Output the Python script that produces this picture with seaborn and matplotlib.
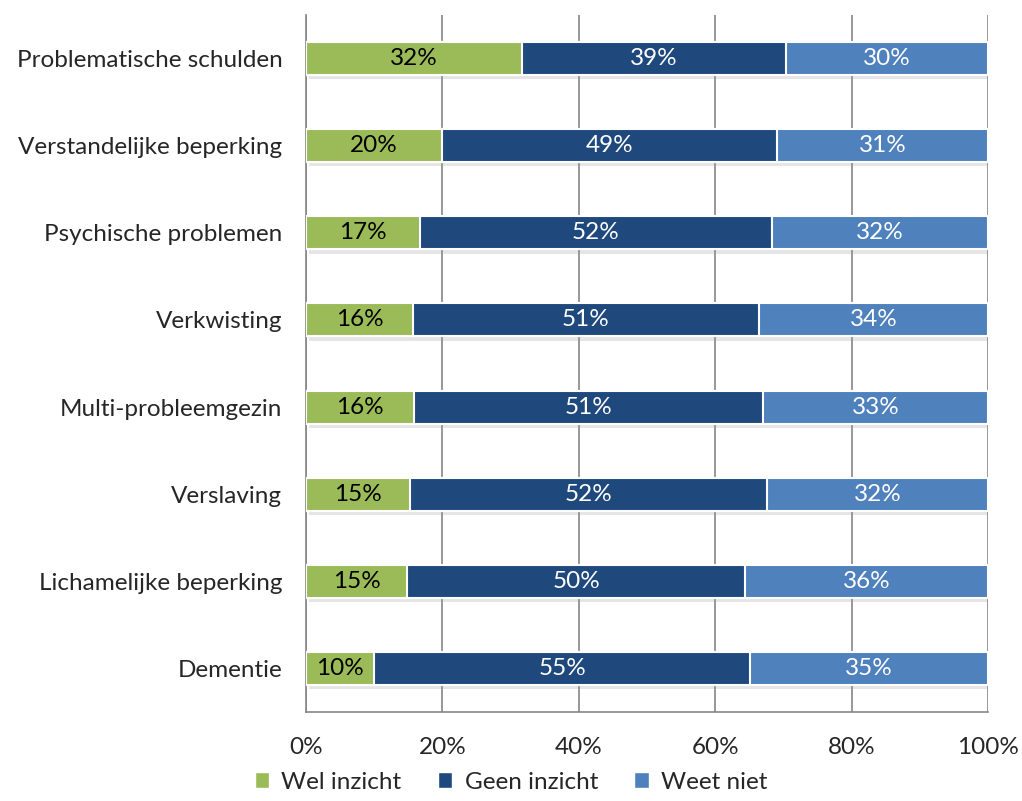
import numpy as np
import pandas as pd
import matplotlib.pyplot as plt
import matplotlib.patheffects as pe
from matplotlib.patches import Patch
import seaborn as sns

categories = ['Problematische schulden', 'Verstandelijke beperking', 'Psychische problemen',
              'Verkwisting', 'Multi-probleemgezin', 'Verslaving',
              'Lichamelijke beperking', 'Dementie']
wel_inzicht = [31.7, 19.9, 16.7, 15.7, 15.8, 15.2, 14.8, 10.0]
geen_inzicht = [38.7, 49.2, 51.6, 50.7, 51.2, 52.4, 49.6, 55.1]
weet_niet = [29.6, 30.9, 31.7, 33.6, 33.0, 32.4, 35.6, 34.9]
series_names = ['Wel inzicht', 'Geen inzicht', 'Weet niet']

sns.set_style('white')
plt.rcParams['font.family'] = ['Lato', 'DejaVu Sans']

df = pd.DataFrame({'cat': categories, 'wel': wel_inzicht,
                   'geen': geen_inzicht, 'weet': weet_niet})
df['c1'] = df['wel']
df['c2'] = df['wel'] + df['geen']
df['c3'] = df['c2'] + df['weet']

kleuren = ['#9BBB59', '#1F497D', '#4F81BD']
tekstkleur = ['black', 'white', 'white']
fs = 17.5

fig = plt.figure(figsize=(10.22, 8.01), dpi=100)
ax = fig.add_axes([0.2994, 0.1111, 0.6673, 0.8702])

for kol, kl in zip(['c3', 'c2', 'c1'], kleuren[::-1]):
    sns.barplot(data=df, x=kol, y='cat', color=kl, width=0.38, orient='h',
                edgecolor='white', linewidth=1.5, saturation=1, ax=ax, zorder=3)

# zachte schaduw alleen onder de volle balk
schaduw = [pe.SimplePatchShadow(offset=(2, -3), shadow_rgbFace='#999999', alpha=0.25), pe.Normal()]
for p in ax.patches[:len(categories)]:
    p.set_path_effects(schaduw)

# waarden in de segmenten
for i in range(len(categories)):
    links = 0
    for j, waarde in enumerate([wel_inzicht[i], geen_inzicht[i], weet_niet[i]]):
        ax.text(links + waarde / 2, i, f'{round(waarde):d}%', ha='center', va='center',
                color=tekstkleur[j], fontsize=fs, zorder=5)
        links += waarde

ax.set_xlim(0, 100)
ax.set_ylim(len(categories) - 0.5, -0.5)
ax.set_xticks(np.arange(0, 101, 20))
ax.set_xticklabels([f'{v}%' for v in range(0, 101, 20)], fontsize=fs)
ax.set_yticks(range(len(categories)))
ax.set_yticklabels(categories, fontsize=fs)
ax.set_yticks(np.arange(-0.5, len(categories)), minor=True)
ax.tick_params(axis='y', which='major', length=0, pad=17)
ax.tick_params(axis='y', which='minor', length=13, width=1.2, color='#868686', direction='out')
ax.tick_params(axis='x', length=8, width=1.2, color='#868686', direction='out', pad=10)
ax.xaxis.grid(True, color='#868686', linewidth=1.2, zorder=0)
ax.set_axisbelow(True)
ax.set_xlabel('')
ax.set_ylabel('')
for s in ['top', 'right']:
    ax.spines[s].set_visible(False)
for s in ['left', 'bottom']:
    ax.spines[s].set_color('#868686')
    ax.spines[s].set_linewidth(1.2)

handles = [Patch(facecolor=k, label=n) for k, n in zip(kleuren, series_names)]
fig.legend(handles=handles, loc='lower center', bbox_to_anchor=(0.5, -0.017), ncol=3,
           frameon=False, fontsize=fs, handlelength=0.6, handleheight=0.6,
           handletextpad=0.5, columnspacing=1.5)

fig.savefig('out.png', dpi=100)
